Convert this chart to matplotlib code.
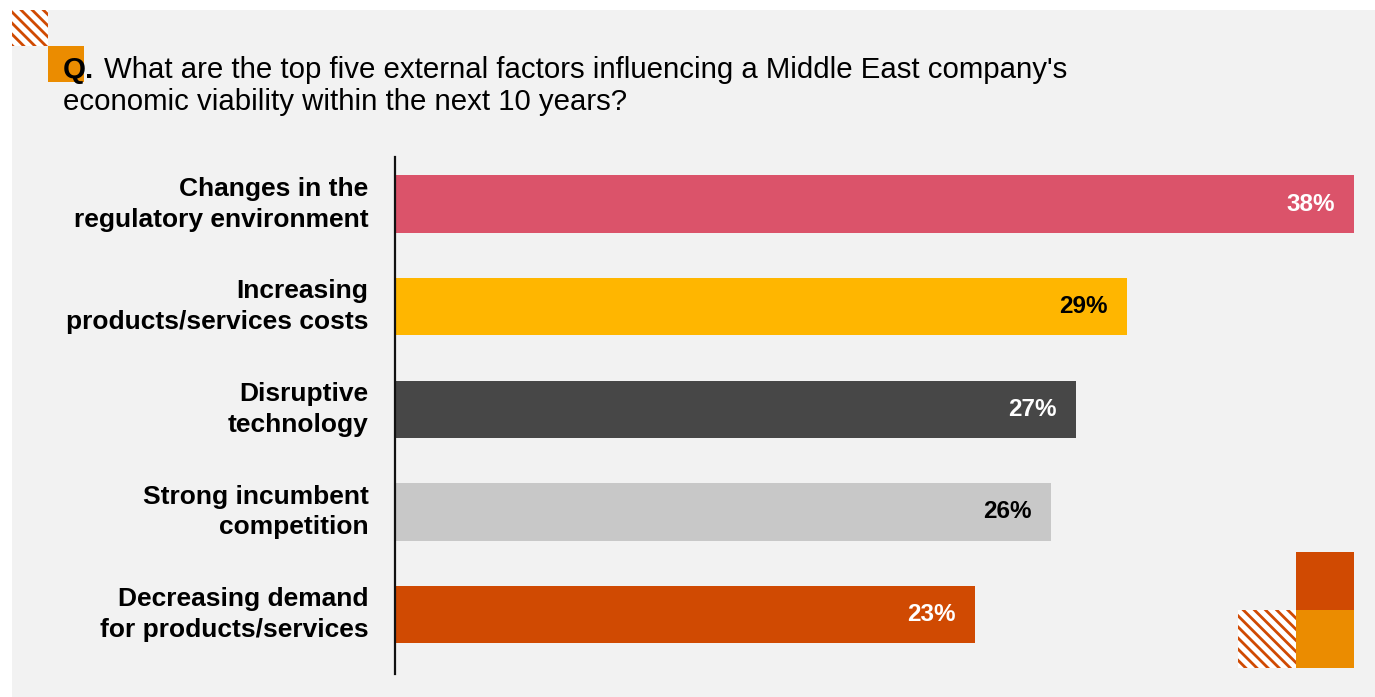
import matplotlib.pyplot as plt
from matplotlib.patches import Rectangle

plt.rcParams['font.family'] = ['Liberation Sans', 'DejaVu Sans']
plt.rcParams['hatch.linewidth'] = 2.0

# survey answers, top five external factors
factors = [
    "Changes in the\nregulatory environment",
    "Increasing\nproducts/services costs",
    "Disruptive\ntechnology",
    "Strong incumbent\ncompetition",
    "Decreasing demand\nfor products/services",
]
shares = [38, 29, 27, 26, 23]
bar_colors = ["#DB536A", "#FFB600", "#474747", "#C8C8C8", "#D04A02"]
label_colors = ["white", "black", "white", "black", "white"]

W, H = 1375, 697
fig = plt.figure(figsize=(W / 100, H / 100), dpi=100)
fig.patch.set_facecolor("white")


def px_rect(x0, y0, x1, y1, **kw):
    # rectangle given in pixel coords measured from the top-left corner
    r = Rectangle((x0 / W, 1 - y1 / H), (x1 - x0) / W, (y1 - y0) / H,
                  transform=fig.transFigure, **kw)
    fig.add_artist(r)
    return r


# grey backdrop
px_rect(12, 10, W, H, facecolor="#F2F2F2", edgecolor="none", zorder=0)

# decorative blocks
px_rect(12, 10, 48, 46, facecolor="white", edgecolor="#D04A02",
        hatch="\\\\\\", linewidth=0, zorder=1)
px_rect(48, 46, 84, 82, facecolor="#EB8C00", edgecolor="none", zorder=1)
px_rect(1296, 552, 1354, 610, facecolor="#D04A02", edgecolor="none", zorder=1)
px_rect(1296, 610, 1354, 668, facecolor="#EB8C00", edgecolor="none", zorder=1)
px_rect(1238, 610, 1296, 668, facecolor="white", edgecolor="#D04A02",
        hatch="\\\\\\", linewidth=0, zorder=1)

# question text
fig.text(63 / W, 1 - 78 / H, "Q.", fontsize=21.2, fontweight="bold",
         color="black", va="baseline", ha="left", zorder=3)
fig.text(104 / W, 1 - 78 / H,
         "What are the top five external factors influencing a Middle East company's",
         fontsize=21.2, color="black", va="baseline", ha="left", zorder=3)
fig.text(63 / W, 1 - 110 / H, "economic viability within the next 10 years?",
         fontsize=21.2, color="black", va="baseline", ha="left", zorder=3)

# bar chart
ax = fig.add_axes([395 / W, 1 - 674 / H, 959 / W, (674 - 157) / H])
ax.set_facecolor("none")
ypos = list(range(len(factors)))
ax.barh(ypos, shares, height=0.56, color=bar_colors, zorder=2)
ax.set_xlim(0, 38)
ax.set_ylim(4.58, -0.46)

for y, v, c in zip(ypos, shares, label_colors):
    ax.annotate(f"{v}%", xy=(v, y), xytext=(-14, 0), textcoords="offset points",
                ha="right", va="center", fontsize=17.5, fontweight="bold", color=c)

ax.set_yticks(ypos)
ax.set_yticklabels(factors, fontsize=19, fontweight="bold",
                   linespacing=1.35, va="center")
ax.tick_params(axis="y", length=0, pad=19)
ax.set_xticks([])
for side in ["top", "right", "bottom"]:
    ax.spines[side].set_visible(False)
ax.spines["left"].set_linewidth(1.6)
ax.spines["left"].set_color("#111111")

fig.savefig("out.png", dpi=100)
